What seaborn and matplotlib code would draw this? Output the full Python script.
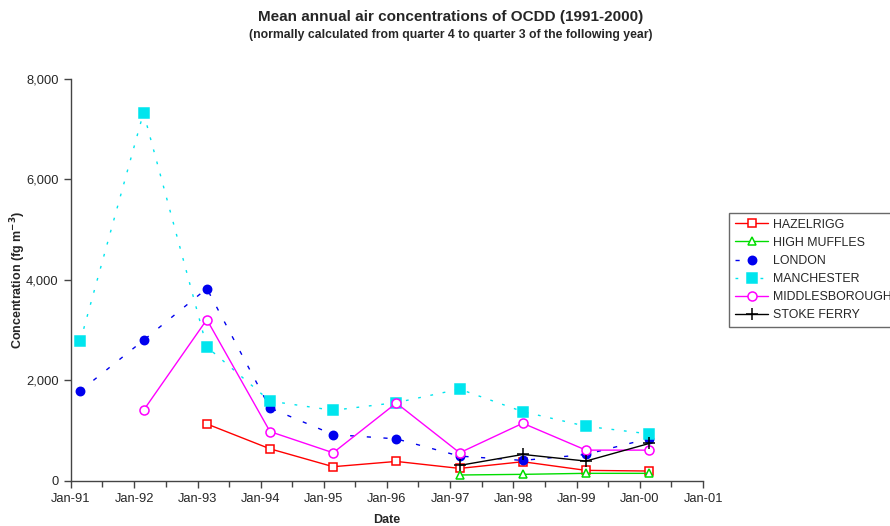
import pandas as pd
import numpy as np
import matplotlib
matplotlib.use('Agg')
import matplotlib.pyplot as plt
import matplotlib.dates as mdates
import matplotlib.ticker as mticker
import seaborn as sns

# data (fg m-3), one value per year, None = no data
years = [1991, 1992, 1993, 1994, 1995, 1996, 1997, 1998, 1999, 2000]
hazelrigg = [None, None, 1135, 640, 284, 389, 250, 383, 211, 198]
high_muffles = [None, None, None, None, None, None, 119, 132, 152, 152]
london = [1795, 2800, 3830, 1452, 924, 838, 495, 409, 528, 845]
manchester = [2788, 7331, 2669, 1590, 1406, 1560, 1828, 1380, 1089, 937]
middlesborough = [None, 1406, 3212, 983, 561, 1551, 561, 1149, 614, 614]
stoke_ferry = [None, None, None, None, None, None, 310, 528, 396, 746]

series = [
    ('HAZELRIGG', hazelrigg, dict(color='#ff0000', marker='s', mfc='white', ls='-', ms=6)),
    ('HIGH MUFFLES', high_muffles, dict(color='#00dd00', marker='^', mfc='white', ls='-', ms=6)),
    ('LONDON', london, dict(color='#0000ee', marker='o', mfc='#0000ee', ls=(0, (3, 9)), ms=6)),
    ('MANCHESTER', manchester, dict(color='#00e5ee', marker='s', mfc='#00e5ee', ls=(0, (2, 7)), ms=6.5)),
    ('MIDDLESBOROUGH', middlesborough, dict(color='#ff00ff', marker='o', mfc='white', ls='-', ms=6.5)),
    ('STOKE FERRY', stoke_ferry, dict(color='black', marker='+', mfc='black', ls='-', ms=8)),
]

sns.set_style('white')
plt.rcParams['font.family'] = ['Liberation Sans', 'DejaVu Sans']

fig = plt.figure(figsize=(8.9, 5.26), dpi=100)
ax = fig.add_axes([0.0798, 0.0856, 0.7102, 0.7642])

dates = pd.to_datetime([f'{y}-02-24' for y in years])
for name, vals, st in series:
    df = pd.DataFrame({'date': dates, 'value': vals}).dropna()
    sns.lineplot(data=df, x='date', y='value', ax=ax, color=st['color'],
                 marker=st['marker'], markersize=st['ms'], markerfacecolor=st['mfc'],
                 markeredgecolor=st['color'], markeredgewidth=1.1,
                 linestyle=st['ls'], linewidth=1.0, label=name)

ax.set_xlim(pd.Timestamp('1991-01-01'), pd.Timestamp('2001-01-01'))
ax.set_ylim(0, 8000)
ax.xaxis.set_major_locator(mdates.YearLocator(1, month=1, day=1))
ax.xaxis.set_minor_locator(mdates.MonthLocator(bymonth=7, bymonthday=1))
ax.xaxis.set_major_formatter(mdates.DateFormatter('%b-%y'))
ax.yaxis.set_major_locator(mticker.MultipleLocator(2000))
ax.yaxis.set_major_formatter(mticker.FuncFormatter(lambda v, p: f'{int(v):,}'))

for s in ['top', 'right']:
    ax.spines[s].set_visible(False)
for s in ['left', 'bottom']:
    ax.spines[s].set_color('#444444')
    ax.spines[s].set_linewidth(1.0)
ax.tick_params(axis='both', which='major', direction='out', length=5, width=1,
               color='#444444', labelsize=9.3, bottom=True, left=True, pad=4)
ax.tick_params(axis='x', which='minor', direction='out', length=4, width=1,
               color='#444444', bottom=True)

ax.set_xlabel('Date', fontsize=9, fontweight='bold')
ax.xaxis.set_label_coords(0.5, -0.082)
ax.set_ylabel(r'Concentration (fg m$^{\mathbf{-3}}$)', fontsize=9, fontweight='bold')
ax.yaxis.set_label_coords(-0.068, 0.5)

fig.text(0.506, 0.968, 'Mean annual air concentrations of OCDD (1991-2000)',
         ha='center', va='center', fontsize=11, fontweight='bold')
fig.text(0.506, 0.934, '(normally calculated from quarter 4 to quarter 3 of the following year)',
         ha='center', va='center', fontsize=8.8, fontweight='bold')

# legend sits partly past the right edge, as in the original chart
leg = ax.legend(loc='upper left', bbox_to_anchor=(0.8195, 0.595), bbox_transform=fig.transFigure,
                fontsize=8.9, frameon=True, fancybox=False, handlelength=2.7,
                labelspacing=0.5, borderpad=0.45, handletextpad=0.35, borderaxespad=0)
leg.get_frame().set_edgecolor('#444444')
leg.get_frame().set_linewidth(1.0)

fig.savefig('out.png', dpi=100)
